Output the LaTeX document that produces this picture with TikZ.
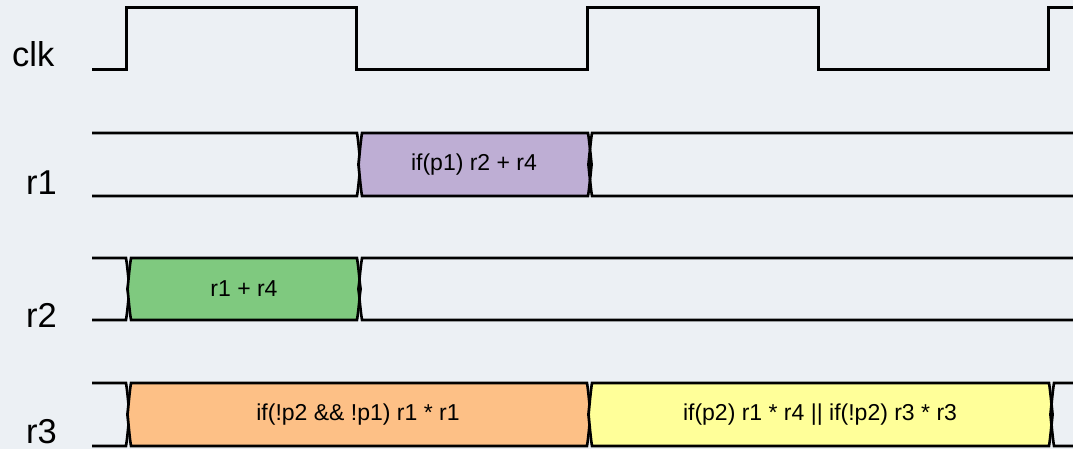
\documentclass[tikz,border=0pt]{standalone}
\usepackage{fontspec}
\setmainfont{Liberation Sans}
\definecolor{bgc}{HTML}{ECF0F4}
\definecolor{cpurple}{HTML}{BEAED4}
\definecolor{cgreen}{HTML}{7FC97F}
\definecolor{corange}{HTML}{FDC086}
\definecolor{cyellow}{HTML}{FFFF99}
\tikzset{
  clkline/.style={line width=3pt, line join=miter, black},
  segline/.style={line width=2.6pt, line join=miter, black},
  siglabel/.style={anchor=base west, inner sep=0pt, font=\fontsize{34.5}{40}\selectfont},
  segtext/.style={anchor=center, inner sep=0pt, font=\fontsize{23}{27}\selectfont},
}
% closed segment: x1 x2 ytop ybot colour
\newcommand\closedseg[5]{%
  \path[segline, draw, fill=#5]
    ({#1},{#3}) -- ({#2},{#3})
    .. controls ({#2+2},{#3+12}) and ({#2+3.6},{#4-26}) .. ({#2+3.6},{(#3+#4)/2})
    .. controls ({#2+3.6},{#3+26}) and ({#2+2},{#4-12}) .. ({#2},{#4})
    -- ({#1},{#4})
    .. controls ({#1-2},{#4-12}) and ({#1-3.6},{#3+26}) .. ({#1-3.6},{(#3+#4)/2})
    .. controls ({#1-3.6},{#4-26}) and ({#1-2},{#3+12}) .. cycle;}
% segment open at the left end: x1 x2 ytop ybot
\newcommand\leftopenseg[4]{%
  \draw[segline] ({#1},{#3}) -- ({#2},{#3})
    .. controls ({#2+2},{#3+12}) and ({#2+3.6},{#4-26}) .. ({#2+3.6},{(#3+#4)/2})
    .. controls ({#2+3.6},{#3+26}) and ({#2+2},{#4-12}) .. ({#2},{#4})
    -- ({#1},{#4});}
% segment open at the right end: x1 x2 ytop ybot
\newcommand\rightopenseg[4]{%
  \draw[segline] ({#2},{#3}) -- ({#1},{#3})
    .. controls ({#1-2},{#3+12}) and ({#1-3.6},{#4-26}) .. ({#1-3.6},{(#3+#4)/2})
    .. controls ({#1-3.6},{#3+26}) and ({#1-2},{#4-12}) .. ({#1},{#4})
    -- ({#2},{#4});}
\begin{document}
\begin{tikzpicture}[x=1pt, y=-1pt]
\fill[bgc] (0,0) rectangle (1073,449);
\useasboundingbox (0,0) rectangle (1073,449);
\begin{scope}
\clip (0,0) rectangle (1073,449);
% labels
\node[siglabel] (lclk) at (12,67) {clk};
\node[siglabel] (lr1) at (26,195) {r1};
\node[siglabel] (lr2) at (26,327) {r2};
\node[siglabel] (lr3) at (26,443) {r3};
% clock
\draw[clkline] (92,70) -- (126,70) -- (126,8) -- (356,8) -- (356,70)
  -- (587,70) -- (587,8) -- (818,8) -- (818,70) -- (1048,70) -- (1048,8) -- (1080,8);
% r1
\leftopenseg{92}{357}{133}{196}
\closedseg{362}{588}{133}{196}{cpurple}
\rightopenseg{592}{1080}{133}{196}
\node[segtext] (t1) at (474,164.5) {if(p1) r2 + r4};
% r2
\leftopenseg{92}{126}{258}{320}
\closedseg{131}{357}{258}{320}{cgreen}
\rightopenseg{362}{1080}{258}{320}
\node[segtext] (t2) at (244,289) {r1 + r4};
% r3
\leftopenseg{92}{126}{383}{446}
\closedseg{131}{587}{383}{446}{corange}
\closedseg{592}{1049}{383}{446}{cyellow}
\rightopenseg{1054}{1080}{383}{446}
\node[segtext] (t3) at (358,414.5) {if(!p2 \&\& !p1) r1 * r1};
\node[segtext] (t4) at (820,414.5) {if(p2) r1 * r4 || if(!p2) r3 * r3};
\end{scope}
\end{tikzpicture}
\end{document}
